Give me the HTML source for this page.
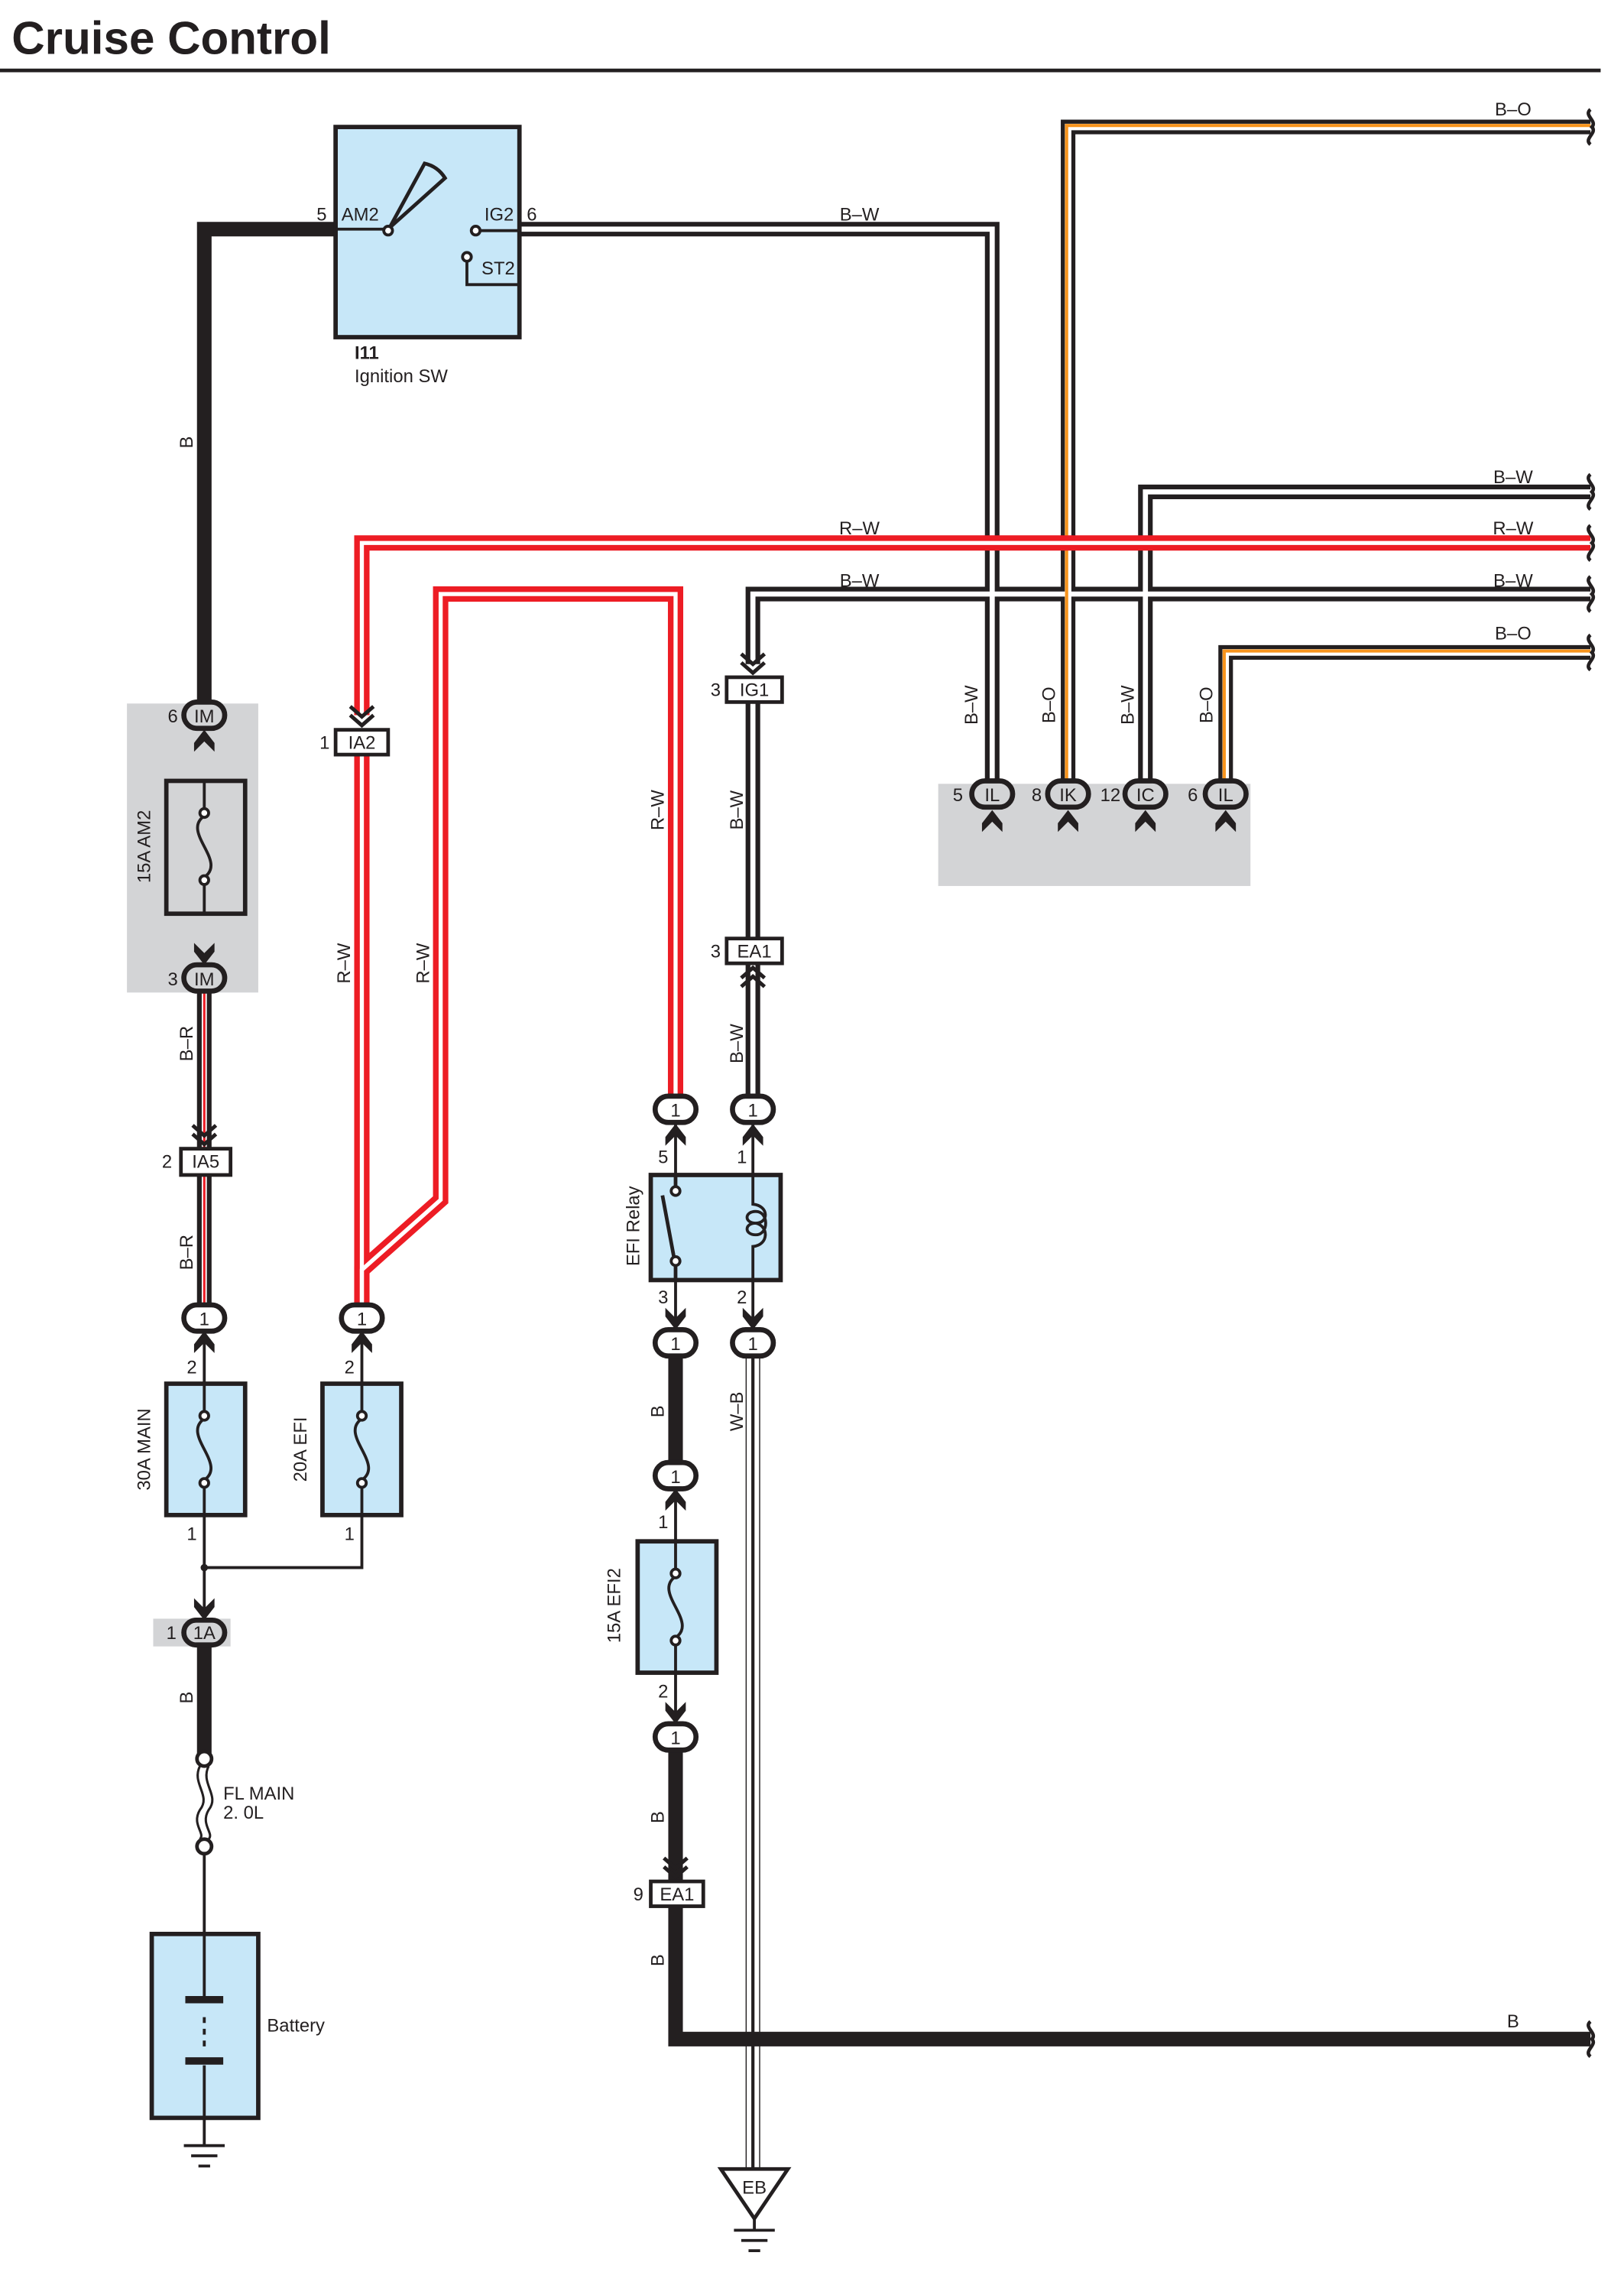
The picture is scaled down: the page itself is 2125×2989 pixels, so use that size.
<!DOCTYPE html>
<html><head><meta charset="utf-8"><style>
html,body{margin:0;padding:0;background:#fff}
svg{display:block}
text{font-family:"Liberation Sans",Arial,sans-serif;font-size:12.5px;fill:#231f20}
.c{text-anchor:middle}
</style></head><body>
<svg width="2125" height="2989" viewBox="0 0 1113 1565.5" preserveAspectRatio="none" xmlns="http://www.w3.org/2000/svg">
<defs>
<path id="au" d="M-7,9 L0,0 L7,9 L7,15 L0,8 L-7,15 Z" fill="#231f20"/>
<path id="ad" d="M-7,-9 L0,0 L7,-9 L7,-15 L0,-8 L-7,-15 Z" fill="#231f20"/>
<path id="cd" d="M-8,-14 L0,-7 L8,-14 M-8,-8 L0,-1 L8,-8" fill="none" stroke="#231f20" stroke-width="2.6"/>
<path id="cu" d="M-8,14 L0,7 L8,14 M-8,8 L0,1 L8,8" fill="none" stroke="#231f20" stroke-width="2.6"/>
<path id="sq" d="M-1,-12 C-6,-8 4,-4 0,0 C4,4 -6,8 -1,12" fill="none" stroke="#231f20" stroke-width="2.4"/>
</defs>
<rect width="1113" height="1566" fill="#fff"/>
<text x="8" y="37" style="font-size:31.5px;font-weight:bold">Cruise Control</text>
<rect x="0" y="47" width="1097" height="2.5" fill="#231f20"/>

<g fill="none" stroke-linejoin="miter">
<g stroke="#231f20" stroke-width="10">
<path d="M356,157 H680 V537"/><path d="M1090,87 H732 V537"/><path d="M1090,337 H785 V537"/>
<path d="M1090,407 H516 V455"/><path d="M1090,447 H840 V537"/>
<path d="M516,481 V643"/><path d="M516,660 V752"/>
<path d="M140,679 V787"/><path d="M140,805 V895"/>
<path d="M516,930 V1485"/>
</g>
<g stroke="#fff" stroke-width="3.5">
<path d="M356,157 H680 V537"/><path d="M1090,337 H785 V537"/>
<path d="M1090,407 H516 V455"/><path d="M516,481 V643"/><path d="M516,660 V752"/>
<path d="M140,679 V787"/><path d="M140,805 V895"/>
</g>
<g stroke="#fff" stroke-width="4.5"><path d="M1090,87 H732 V537"/><path d="M1090,447 H840 V537"/></g>
<g stroke="#f7941d" stroke-width="2.2"><path d="M1090,86 H731 V537"/><path d="M1090,446 H839 V537"/></g>
<g stroke="#ed1c24" stroke-width="1.6"><path d="M140,679 V787"/><path d="M140,805 V895"/></g>
<path d="M516,930 V1485" stroke="#fff" stroke-width="8.5"/>
<path d="M516,930 V1485" stroke="#231f20" stroke-width="2.2"/>
<g stroke="#ed1c24" stroke-width="10.5">
<path d="M1090,372 H248 V490"/><path d="M248,517 V895"/>
<path d="M248,895 V870 L302,822 V407 H463 V752"/>
</g>
<g stroke="#fff" stroke-width="2.8">
<path d="M1090,372 H248 V490"/><path d="M248,517 V895"/>
<path d="M248,895 V870 L302,822 V407 H463 V752"/>
</g>
<g stroke="#231f20" stroke-width="10">
<path d="M230,157 H140 V482"/><path d="M140,1128 V1205"/>
<path d="M463,930 V1003"/><path d="M463,1200 V1288"/><path d="M463,1306 V1397 H1090"/>
</g>
<g stroke="#231f20" stroke-width="2">
<path d="M680,556 V590 H840 V556"/><path d="M732,556 V590"/><path d="M785,556 V590"/>
<path d="M140,1038 V1110"/><path d="M140,1074 H248 V1038"/>
<path d="M140,1270 V1325"/><path d="M140,1451 V1470"/>
<path d="M463,770 V805"/><path d="M516,770 V805"/><path d="M463,877 V912"/><path d="M516,877 V912"/>
<path d="M463,1020 V1056"/><path d="M463,1146 V1182"/>
<path d="M140,912 V948"/><path d="M248,912 V948"/><path d="M140,500 V535"/><path d="M140,626 V662"/>
</g>
</g>
<g fill="#231f20"><circle cx="140" cy="1074" r="2.5"/><circle cx="732" cy="590" r="4"/><circle cx="785" cy="590" r="4"/></g>
<use href="#sq" x="1091" y="87"/><use href="#sq" x="1091" y="337"/><use href="#sq" x="1091" y="372"/>
<use href="#sq" x="1091" y="407"/><use href="#sq" x="1091" y="447"/><use href="#sq" x="1091" y="1397"/>

<rect x="230" y="87" width="126" height="144" fill="#c7e7f8" stroke="#231f20" stroke-width="3"/>
<g fill="none" stroke="#231f20" stroke-width="2">
<path d="M230,157 H263"/><circle cx="266" cy="158" r="3" fill="#fff"/>
<path d="M267,156 L291,112 Q300,114 305,122 Z" stroke-width="2.5"/>
<path d="M329,158 H356"/><circle cx="326" cy="158" r="3" fill="#fff"/>
<path d="M320,179 V195 H356"/><circle cx="320" cy="176" r="3" fill="#fff"/>
</g>
<text x="217" y="151">5</text><text x="234" y="151">AM2</text><text x="332" y="151">IG2</text><text x="361" y="151">6</text>
<text x="330" y="188">ST2</text>
<text x="243" y="246" style="font-weight:bold">I11</text><text x="243" y="262">Ignition SW</text>

<rect x="87" y="482" width="90" height="198" fill="#d3d4d6"/>
<rect x="105" y="1109" width="53" height="19" fill="#d3d4d6"/>
<rect x="643" y="537" width="214" height="70" fill="#d3d4d6"/>

<g stroke="#231f20" stroke-width="3">
<rect x="114" y="535" width="54" height="91" fill="#d3d4d6"/>
<rect x="114" y="948" width="54" height="90" fill="#c7e7f8"/>
<rect x="221" y="948" width="54" height="90" fill="#c7e7f8"/>
<rect x="437" y="1056" width="54" height="90" fill="#c7e7f8"/>
<rect x="446" y="805" width="89" height="72" fill="#c7e7f8"/>
<rect x="104" y="1325" width="73" height="126" fill="#c7e7f8"/>
</g>
<g fill="none" stroke="#231f20" stroke-width="2">
<path d="M140,535 V556 M140,604 V626 M140,559 C124,570 156,590 140,601"/><circle cx="140" cy="557" r="3" fill="#fff"/><circle cx="140" cy="603" r="3" fill="#fff"/>
<path d="M140,948 V969 M140,1017 V1038 M140,972 C124,983 156,1003 140,1014"/><circle cx="140" cy="970" r="3" fill="#fff"/><circle cx="140" cy="1016" r="3" fill="#fff"/>
<path d="M248,948 V969 M248,1017 V1038 M248,972 C232,983 264,1003 248,1014"/><circle cx="248" cy="970" r="3" fill="#fff"/><circle cx="248" cy="1016" r="3" fill="#fff"/>
<path d="M463,1056 V1077 M463,1125 V1146 M463,1080 C447,1091 479,1111 463,1122"/><circle cx="463" cy="1078" r="3" fill="#fff"/><circle cx="463" cy="1124" r="3" fill="#fff"/>
<path d="M463,805 V813 M463,867 V877 M454,819 L462,862" stroke-width="2.5"/>
<circle cx="463" cy="816" r="3" fill="#fff"/><circle cx="463" cy="864" r="3" fill="#fff"/>
<path d="M516,805 V825 C527,826 527,838 518,838 C510,838 510,830 518,830 C527,830 527,846 518,846 C510,846 510,838 518,838 C527,840 527,853 516,854 V877"/>
<path d="M137,1210 C131,1222 145,1230 137,1240 C131,1250 141,1256 137,1260 M143,1210 C137,1222 151,1230 143,1240 C137,1250 147,1256 143,1260" stroke-width="1.6"/>
<circle cx="140" cy="1205" r="5" fill="#fff" stroke-width="2.5"/><circle cx="140" cy="1265" r="5" fill="#fff" stroke-width="2.5"/>
<path d="M140,1325 V1368 M140,1415 V1451 M140,1378 V1405" />
<path d="M140,1378 V1405" stroke="#c7e7f8" stroke-width="3" stroke-dasharray="4 4"/>
<path d="M127,1370 H153 M127,1412 H153" stroke-width="5"/>
<path d="M126,1470 H154 M131,1477 H149 M136,1484 H144"/>
<path d="M494,1486 H540 L517,1520 Z" fill="#fff" stroke-width="2.5"/>
<path d="M517,1520 V1528 M503,1528 H531 M508,1535 H526 M513,1542 H521"/>
</g>
<text x="183" y="1392">Battery</text>
<text x="153" y="1233">FL MAIN</text><text x="153" y="1246">2. 0L</text>
<text x="517" y="1503" class="c">EB</text>

<g stroke="#231f20" stroke-width="3.5">
<rect x="126" y="481" width="28" height="18" rx="9" fill="#d3d4d6"/>
<rect x="126" y="661" width="28" height="18" rx="9" fill="#d3d4d6"/>
<rect x="126" y="1110" width="28" height="17" rx="8.5" fill="#d3d4d6"/>
<rect x="666" y="535" width="28" height="18" rx="9" fill="#d3d4d6"/>
<rect x="718" y="535" width="28" height="18" rx="9" fill="#d3d4d6"/>
<rect x="771" y="535" width="28" height="18" rx="9" fill="#d3d4d6"/>
<rect x="826" y="535" width="28" height="18" rx="9" fill="#d3d4d6"/>
<g fill="#fff">
<rect x="126" y="894" width="28" height="18" rx="9"/><rect x="234" y="894" width="28" height="18" rx="9"/>
<rect x="449" y="751" width="28" height="18" rx="9"/><rect x="502" y="751" width="28" height="18" rx="9"/>
<rect x="449" y="911" width="28" height="18" rx="9"/><rect x="502" y="911" width="28" height="18" rx="9"/>
<rect x="449" y="1002" width="28" height="18" rx="9"/><rect x="449" y="1181" width="28" height="18" rx="9"/>
</g>
</g>
<text x="140" y="495" class="c">IM</text><text x="140" y="675" class="c">IM</text><text x="140" y="1123" class="c">1A</text>
<text x="680" y="549" class="c">IL</text><text x="732" y="549" class="c">IK</text><text x="785" y="549" class="c">IC</text><text x="840" y="549" class="c">IL</text>
<text x="140" y="908" class="c">1</text><text x="248" y="908" class="c">1</text>
<text x="463" y="765" class="c">1</text><text x="516" y="765" class="c">1</text>
<text x="463" y="925" class="c">1</text><text x="516" y="925" class="c">1</text>
<text x="463" y="1016" class="c">1</text><text x="463" y="1195" class="c">1</text>
<g fill="#fff" stroke="#231f20" stroke-width="2.5">
<rect x="230" y="500" width="36" height="17"/><rect x="124" y="787" width="34" height="18"/>
<rect x="498" y="464" width="38" height="17"/><rect x="498" y="643" width="38" height="17"/>
<rect x="446" y="1289" width="36" height="17"/>
</g>
<text x="248" y="513" class="c">IA2</text><text x="141" y="800" class="c">IA5</text>
<text x="517" y="477" class="c">IG1</text><text x="517" y="656" class="c">EA1</text><text x="464" y="1302" class="c">EA1</text>

<use href="#cd" x="248" y="498"/><use href="#cd" x="140" y="785"/><use href="#cd" x="516" y="462"/>
<use href="#cd" x="463" y="1287"/><use href="#cu" x="516" y="662"/>
<use href="#au" x="140" y="500"/><use href="#ad" x="140" y="661"/>
<use href="#au" x="140" y="912"/><use href="#au" x="248" y="912"/>
<use href="#ad" x="140" y="1110"/>
<use href="#au" x="680" y="555"/><use href="#au" x="732" y="555"/><use href="#au" x="785" y="555"/><use href="#au" x="840" y="555"/>
<use href="#au" x="463" y="770"/><use href="#au" x="516" y="770"/>
<use href="#ad" x="463" y="911"/><use href="#ad" x="516" y="911"/>
<use href="#au" x="463" y="1020"/><use href="#ad" x="463" y="1181"/>

<text x="115" y="495">6</text><text x="115" y="675">3</text><text x="114" y="1123">1</text>
<text x="111" y="800">2</text><text x="219" y="513">1</text><text x="487" y="477">3</text><text x="487" y="656">3</text><text x="434" y="1302">9</text>
<text x="653" y="549">5</text><text x="707" y="549">8</text><text x="754" y="549">12</text><text x="814" y="549">6</text>
<text x="128" y="941">2</text><text x="236" y="941">2</text><text x="128" y="1055">1</text><text x="236" y="1055">1</text>
<text x="451" y="797">5</text><text x="505" y="797">1</text><text x="451" y="893">3</text><text x="505" y="893">2</text>
<text x="451" y="1047">1</text><text x="451" y="1163">2</text>

<text x="589" y="151" class="c">B–W</text><text x="589" y="366" class="c">R–W</text><text x="589" y="402" class="c">B–W</text>
<text x="1037" y="79" class="c">B–O</text><text x="1037" y="331" class="c">B–W</text><text x="1037" y="366" class="c">R–W</text>
<text x="1037" y="402" class="c">B–W</text><text x="1037" y="438" class="c">B–O</text><text x="1037" y="1389" class="c">B</text>
<text transform="translate(132,303) rotate(-90)" class="c">B</text>
<text transform="translate(103,580) rotate(-90)" class="c">15A AM2</text>
<text transform="translate(132,715) rotate(-90)" class="c">B–R</text>
<text transform="translate(132,858) rotate(-90)" class="c">B–R</text>
<text transform="translate(103,993) rotate(-90)" class="c">30A MAIN</text>
<text transform="translate(210,993) rotate(-90)" class="c">20A EFI</text>
<text transform="translate(132,1163) rotate(-90)" class="c">B</text>
<text transform="translate(240,660) rotate(-90)" class="c">R–W</text>
<text transform="translate(294,660) rotate(-90)" class="c">R–W</text>
<text transform="translate(455,555) rotate(-90)" class="c">R–W</text>
<text transform="translate(509,555) rotate(-90)" class="c">B–W</text>
<text transform="translate(509,715) rotate(-90)" class="c">B–W</text>
<text transform="translate(438,840) rotate(-90)" class="c">EFI Relay</text>
<text transform="translate(455,967) rotate(-90)" class="c">B</text>
<text transform="translate(509,967) rotate(-90)" class="c">W–B</text>
<text transform="translate(425,1100) rotate(-90)" class="c">15A EFI2</text>
<text transform="translate(455,1245) rotate(-90)" class="c">B</text>
<text transform="translate(455,1343) rotate(-90)" class="c">B</text>
<text transform="translate(670,483) rotate(-90)" class="c">B–W</text>
<text transform="translate(723,483) rotate(-90)" class="c">B–O</text>
<text transform="translate(777,483) rotate(-90)" class="c">B–W</text>
<text transform="translate(831,483) rotate(-90)" class="c">B–O</text>
</svg>
</body></html>
